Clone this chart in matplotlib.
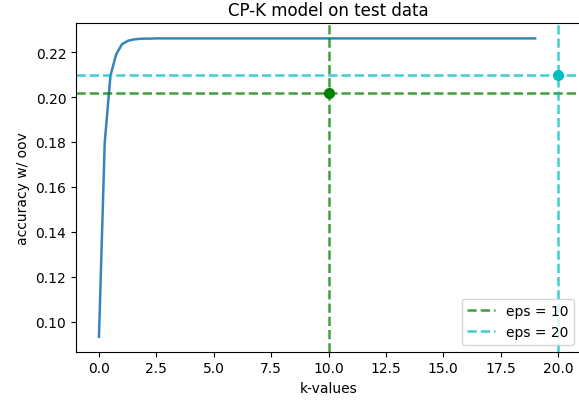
import numpy as np
import matplotlib.pyplot as plt

# k-values (step 0.25 from 0 to 19) and accuracy
k_values = np.arange(0, 19.25, 0.25)
accuracy = [0.0933, 0.1797, 0.2095, 0.2190, 0.2235, 0.2250, 0.2256, 0.2259,
            0.2260, 0.2260, 0.2261, 0.2261, 0.2261, 0.2261, 0.2261, 0.2261,
            0.2261, 0.2261, 0.2261, 0.2261, 0.2261, 0.2261, 0.2261, 0.2261,
            0.2261, 0.2261, 0.2261, 0.2261, 0.2261, 0.2261, 0.2261, 0.2261,
            0.2261, 0.2261, 0.2261, 0.2261, 0.2261, 0.2261, 0.2261, 0.2261,
            0.2261, 0.2261, 0.2261, 0.2261, 0.2261, 0.2261, 0.2261, 0.2261,
            0.2261, 0.2261, 0.2261, 0.2261, 0.2261, 0.2261, 0.2261, 0.2261,
            0.2261, 0.2261, 0.2261, 0.2261, 0.2261, 0.2261, 0.2261, 0.2261,
            0.2261, 0.2261, 0.2261, 0.2261, 0.2261, 0.2261, 0.2261, 0.2261,
            0.2261, 0.2261, 0.2261, 0.2261, 0.2261]

# eps settings: best k and accuracy for each
eps_labels = ["eps = 10", "eps = 20"]
eps_k = [10, 20]
eps_acc = [0.202, 0.21]
eps_line_colors = ["g", "c"]

fig = plt.figure(figsize=(5.79, 4.06), dpi=100)
ax = fig.add_axes([0.1313, 0.1313, 0.8722, 0.8084])

ax.plot(k_values, accuracy, color="tab:blue", lw=1.8, alpha=0.9)

for label, k, acc, col in zip(eps_labels, eps_k, eps_acc, eps_line_colors):
    ax.axhline(acc, color=col, ls="--", lw=1.8, alpha=0.75, label=label)
    ax.axvline(k, color=col, ls="--", lw=1.8, alpha=0.75)
    ax.plot(k, acc, "o", color=col, markersize=7)

ax.set_title("CP-K model on test data", fontsize=12)
ax.set_xlabel("k-values")
ax.set_ylabel("accuracy w/ oov")
ax.legend(loc="lower right")

fig.savefig("out.png", dpi=100)
